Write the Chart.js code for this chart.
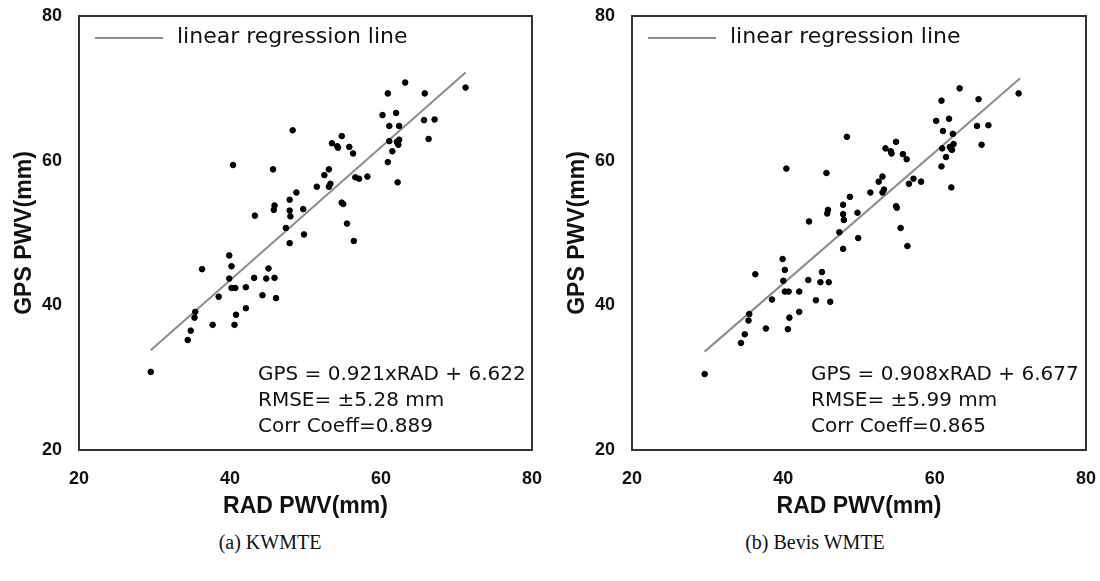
<!DOCTYPE html>
<html>
<head>
<meta charset="utf-8">
<title>GPS vs RAD PWV</title>
<script src="https://cdn.jsdelivr.net/npm/chart.js@4.4.1/dist/chart.umd.min.js"></script>
<style>
  body { margin: 0; background: #fff; width: 1100px; height: 581px; position: relative; overflow: hidden; }
  .box { position: absolute; top: 0; width: 550px; height: 520px; }
  .cap { position: absolute; top: 531px; width: 550px; text-align: center;
         font: 20px "Liberation Serif", "Times New Roman", serif; color: #111; }
</style>
</head>
<body>
<div class="box" style="left:0"><canvas id="chartA"></canvas></div>
<div class="box" style="left:550px"><canvas id="chartB"></canvas></div>
<div class="cap" style="left:-5px">(a) KWMTE</div>
<div class="cap" style="left:540px">(b) Bevis WMTE</div>

<script>
// tick values, same on both axes
var tickVals = [20, 40, 60, 80];

// (a) KWMTE - radiosonde PWV vs GPS PWV
var kwRad = [29.5, 34.4, 34.8, 35.3, 35.4, 36.3, 37.7, 38.5, 39.9, 40.2, 39.9, 40.2, 40.7, 40.4, 40.6, 40.8,
  42.1, 42.1, 43.3, 43.2, 44.3, 44.8, 45.1, 45.9, 46.1, 45.7, 45.9, 45.8, 47.4, 47.9, 47.9, 48.0, 47.9, 48.3,
  48.8, 49.7, 49.8, 51.5, 52.5, 53.1, 53.3, 53.1, 53.5, 54.2, 54.3, 54.8, 55.8, 56.3, 54.8, 55.0, 55.5, 56.4,
  56.6, 57.1, 58.2, 60.2, 60.9, 62.0, 61.1, 62.4, 61.1, 62.1, 62.4, 62.3, 62.2, 61.5, 60.9, 62.2, 63.2, 65.8,
  65.7, 67.1, 66.3, 71.2];
var kwGps = [30.8, 35.2, 36.5, 38.3, 39.1, 45.0, 37.3, 41.2, 43.7, 45.4, 46.9, 42.4, 42.4, 59.4, 37.3, 38.7,
  42.5, 39.6, 52.4, 43.8, 41.4, 43.7, 45.1, 43.8, 41.0, 58.8, 53.8, 53.2, 50.7, 54.6, 53.1, 52.3, 48.6, 64.2,
  55.6, 53.3, 49.8, 56.4, 58.0, 58.8, 56.8, 56.4, 62.4, 62.0, 61.8, 63.4, 61.9, 61.0, 54.2, 54.0, 51.3, 48.9,
  57.7, 57.5, 57.8, 66.3, 69.3, 66.6, 64.8, 64.8, 62.7, 62.6, 62.9, 62.2, 62.4, 61.3, 59.8, 57.0, 70.8, 69.3,
  65.6, 65.7, 63.0, 70.1];
var kwLineX = [29.5, 71.2];
var kwLineY = [33.8, 72.2];
var kwStats = ["GPS = 0.921xRAD + 6.622", "RMSE= \u00b15.28 mm", "Corr Coeff=0.889"];

// (b) Bevis WMTE
var bvRad = [29.6, 34.4, 34.9, 35.4, 35.5, 36.3, 37.7, 38.5, 40.0, 40.2, 39.9, 40.2, 40.7, 40.4, 40.6, 40.8,
  42.1, 42.1, 43.4, 43.3, 44.3, 44.9, 45.1, 46.0, 46.2, 45.7, 45.9, 45.8, 47.4, 47.9, 47.9, 48.0, 47.9, 48.4,
  48.8, 49.8, 49.9, 51.5, 52.6, 53.1, 53.3, 53.1, 53.5, 54.2, 54.3, 54.9, 55.8, 56.3, 54.9, 55.0, 55.5, 56.4,
  57.2, 56.6, 58.2, 60.2, 60.9, 61.9, 61.1, 62.4, 61.0, 62.0, 62.5, 62.3, 62.2, 61.5, 60.9, 62.2, 63.3, 65.8,
  65.6, 67.1, 66.2, 71.1];
var bvGps = [30.5, 34.8, 36.0, 37.9, 38.8, 44.3, 36.8, 40.8, 43.4, 44.9, 46.4, 41.9, 41.9, 58.9, 36.7, 38.3,
  41.9, 39.1, 51.6, 43.5, 40.7, 43.2, 44.6, 43.2, 40.5, 58.3, 53.2, 52.7, 50.1, 53.9, 52.6, 51.8, 47.8, 63.3,
  55.0, 52.8, 49.3, 55.6, 57.1, 57.8, 56.0, 55.6, 61.7, 61.3, 61.0, 62.6, 60.9, 60.2, 53.7, 53.5, 50.7, 48.2,
  57.5, 56.8, 57.1, 65.5, 68.3, 65.8, 64.1, 63.7, 61.7, 61.9, 62.3, 61.5, 61.6, 60.5, 59.2, 56.3, 70.0, 68.5,
  64.8, 64.9, 62.2, 69.3];
var bvLineX = [29.6, 71.3];
var bvLineY = [33.6, 71.4];
var bvStats = ["GPS = 0.908xRAD + 6.677", "RMSE= \u00b15.99 mm", "Corr Coeff=0.865"];

function pairs(xs, ys) {
  return xs.map(function (x, i) { return { x: x, y: ys[i] }; });
}

// box round the plot area, legend line inside, regression text
var framePlugin = {
  id: 'frame',
  afterDatasetsDraw: function (chart, args, opts) {
    var ctx = chart.ctx, a = chart.chartArea;
    ctx.save();
    ctx.strokeStyle = '#333';
    ctx.lineWidth = 2;
    ctx.strokeRect(a.left, a.top, a.right - a.left, a.bottom - a.top);

    var line = chart.data.datasets[1];
    ctx.strokeStyle = line.borderColor;
    ctx.lineWidth = 2;
    ctx.beginPath();
    ctx.moveTo(a.left + 16, a.top + 22);
    ctx.lineTo(a.left + 84, a.top + 22);
    ctx.stroke();
    ctx.fillStyle = '#111';
    ctx.textBaseline = 'middle';
    ctx.font = '22px "DejaVu Sans"';
    ctx.fillText(line.label, a.left + 98, a.top + 21);

    ctx.font = '20px "DejaVu Sans"';
    opts.stats.forEach(function (t, i) {
      ctx.fillText(t, a.left + 179, a.top + 359 + i * 26);
    });
    ctx.restore();
  }
};

function makeChart(id, xs, ys, lx, ly, stats, yWidth, padRight, yTitlePad) {
  var tickFont = { family: '"Liberation Sans", Arial', size: 18, weight: 'bold' };
  var titleFont = { family: '"Liberation Sans", Arial', size: 23, weight: 'bold' };
  // invisible tick marks carry the label offset, so the tick padding stays 0
  var hiddenGrid = function (len) {
    return { display: true, drawOnChartArea: false, drawTicks: true, tickLength: len,
             color: 'rgba(0,0,0,0)', tickColor: 'rgba(0,0,0,0)' };
  };
  return new Chart(document.getElementById(id), {
    type: 'scatter',
    data: {
      datasets: [{
        label: 'PWV',
        data: pairs(xs, ys),
        backgroundColor: '#000',
        borderColor: '#000',
        pointRadius: 2.8,
        pointHoverRadius: 2.8
      }, {
        type: 'line',
        label: 'linear regression line',
        data: pairs(lx, ly),
        borderColor: '#8c8c8c',
        borderWidth: 2,
        pointRadius: 0,
        fill: false
      }]
    },
    options: {
      responsive: true,
      maintainAspectRatio: false,
      animation: false,
      layout: { padding: { left: 0, right: padRight, top: 16, bottom: 0 } },
      plugins: {
        legend: { display: false },
        tooltip: { enabled: false },
        frame: { stats: stats }
      },
      scales: {
        x: {
          type: 'linear', min: 20, max: 80,
          afterBuildTicks: function (s) { s.ticks = tickVals.map(function (v) { return { value: v }; }); },
          afterFit: function (s) { s.height = 70; },
          grid: hiddenGrid(18),
          border: { display: false },
          ticks: { font: tickFont, color: '#111', padding: 0 },
          title: { display: true, text: 'RAD PWV(mm)', font: titleFont, color: '#111', padding: 0 }
        },
        y: {
          type: 'linear', min: 20, max: 80,
          afterBuildTicks: function (s) { s.ticks = tickVals.map(function (v) { return { value: v }; }); },
          afterFit: function (s) { s.width = yWidth; },
          grid: hiddenGrid(17),
          border: { display: false },
          ticks: { font: tickFont, color: '#111', padding: 0 },
          title: { display: true, text: 'GPS PWV(mm)', font: titleFont, color: '#111', padding: { top: yTitlePad, bottom: 0 } }
        }
      }
    },
    plugins: [framePlugin]
  });
}

makeChart('chartA', kwRad, kwGps, kwLineX, kwLineY, kwStats, 79, 18, 11);
makeChart('chartB', bvRad, bvGps, bvLineX, bvLineY, bvStats, 82, 14, 14);
</script>
</body>
</html>
